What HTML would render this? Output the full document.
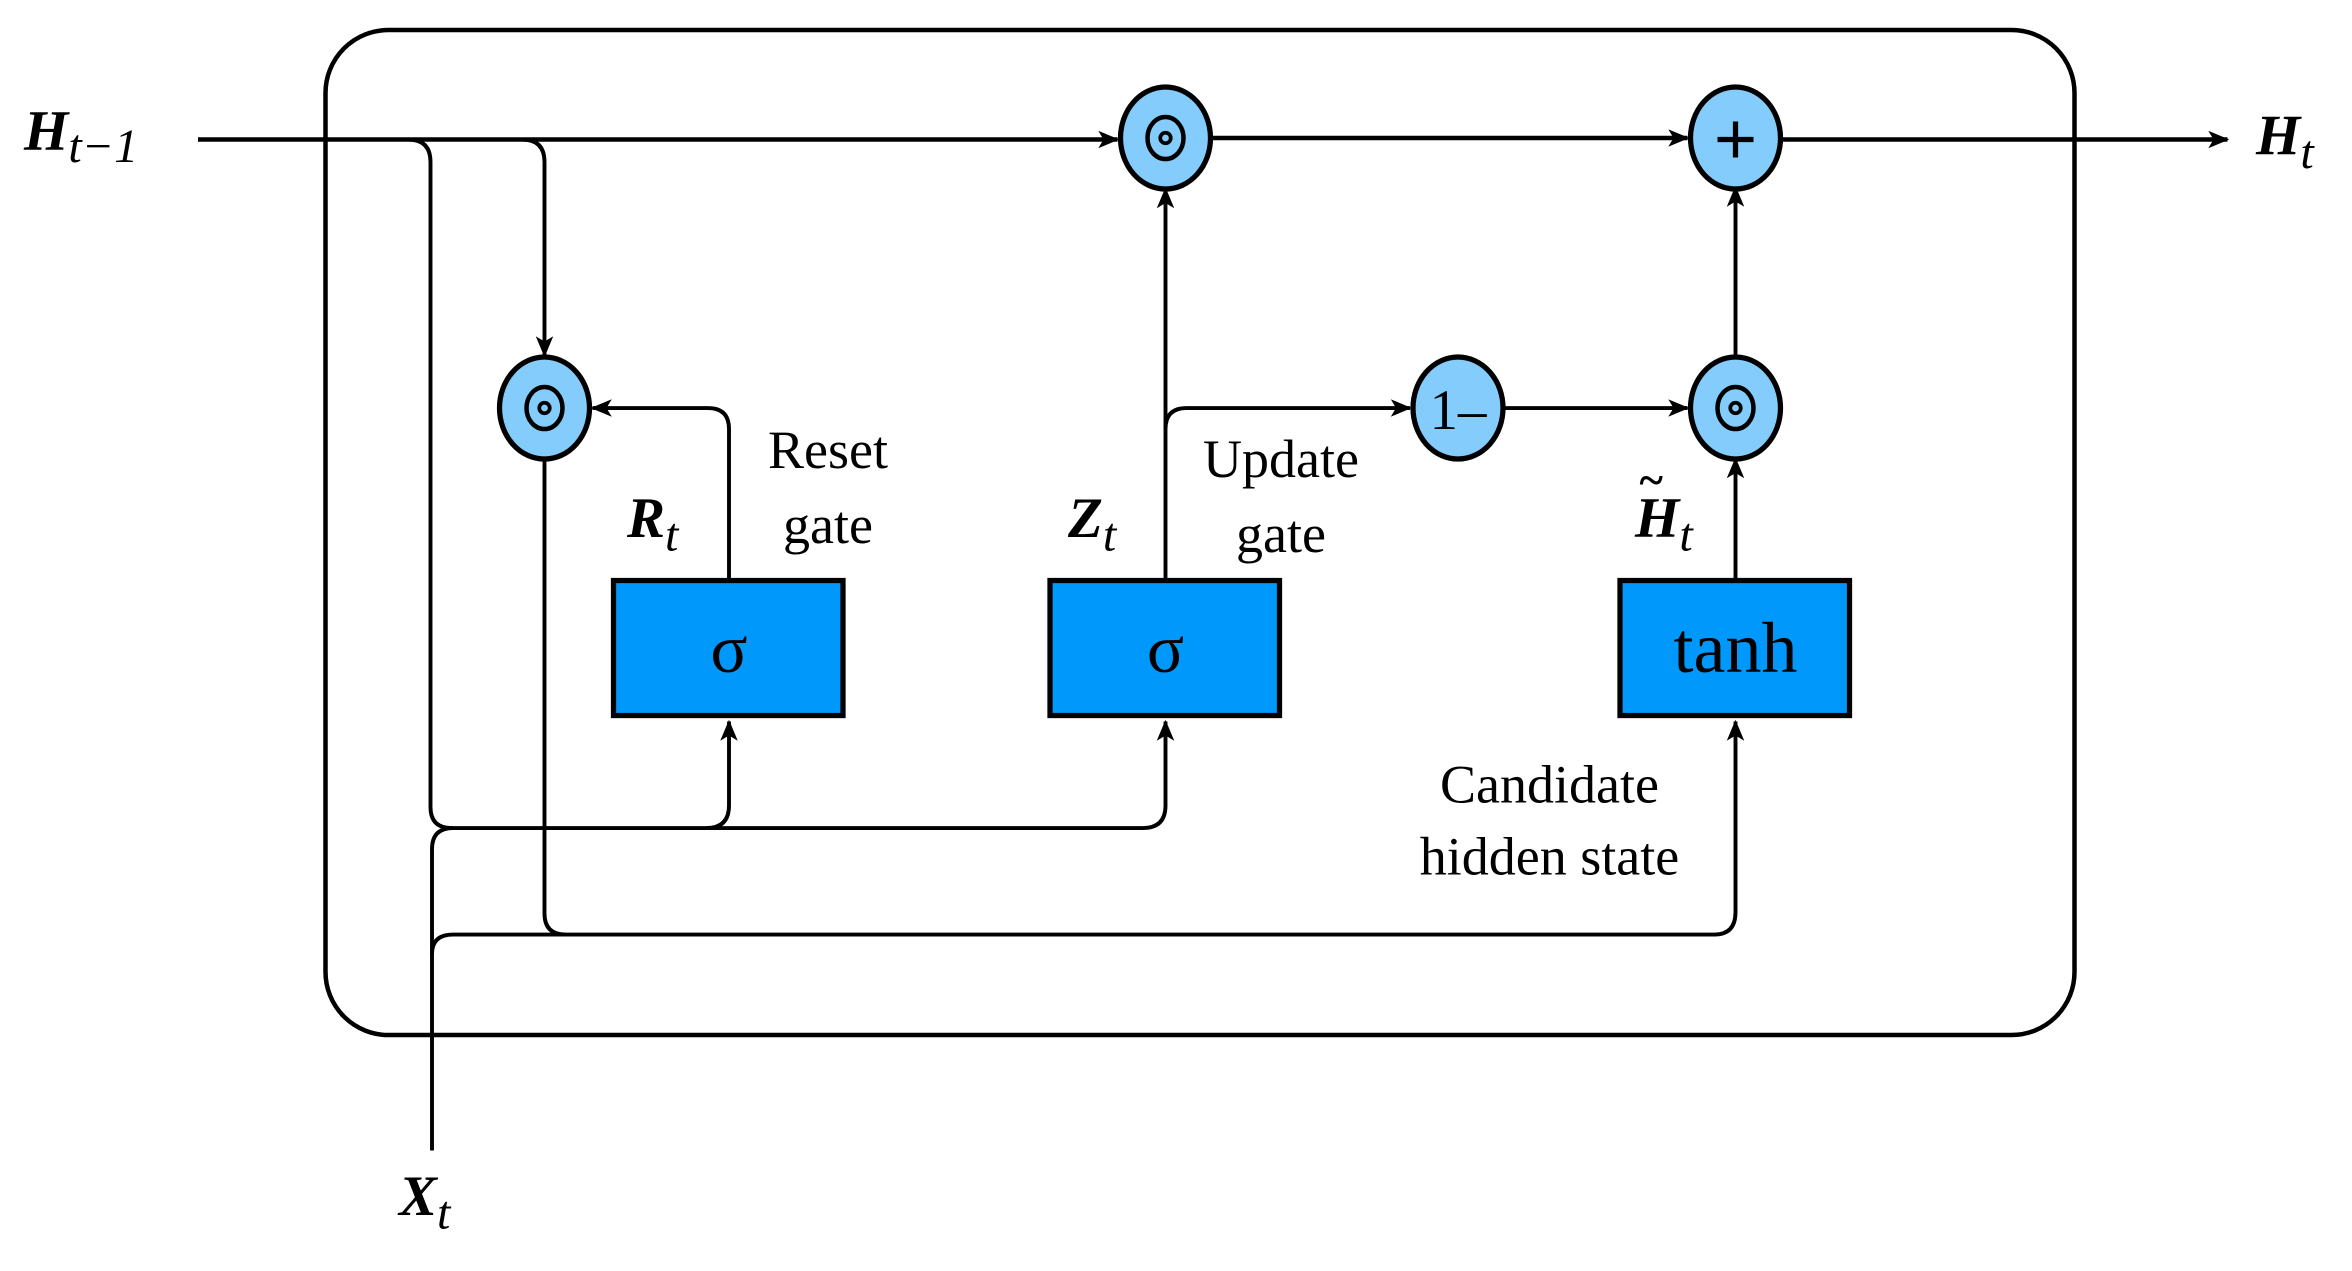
<!DOCTYPE html>
<html><head><meta charset="utf-8"><style>
html,body{margin:0;padding:0;background:#fff;}
svg{display:block;}
text{font-family:"Liberation Serif","DejaVu Serif",serif;fill:#000;}
</style></head><body>
<svg width="2352" height="1271" viewBox="0 0 1568 847.3" preserveAspectRatio="none" xmlns="http://www.w3.org/2000/svg">
<defs>
<marker id="b" viewBox="0 0 12 12" refX="11" refY="6" markerWidth="14" markerHeight="14" orient="auto" markerUnits="userSpaceOnUse">
<path d="M0,1 L12,6 L0,11 L3,6 Z" fill="#000"/>
</marker>
</defs>
<g fill="none" stroke="#000" stroke-width="2.6">
<rect x="217" y="20" width="1166" height="670" rx="42" ry="42" stroke-width="3"/>
<path d="M132,93 H745" stroke-width="3" marker-end="url(#b)"/>
<path d="M272,93 Q287,93 287,108 V538 Q287,552 301,552 H762 Q777,552 777,537 V481" marker-end="url(#b)"/>
<path d="M471,552 Q486,552 486,537 V481" marker-end="url(#b)"/>
<path d="M348,93 Q363,93 363,108 V237" marker-end="url(#b)"/>
<path d="M363,306 V609 Q363,623 377,623"/>
<path d="M288,767 V636 Q288,623 302,623 H1143 Q1157,623 1157,608 V481" marker-end="url(#b)"/>
<path d="M288,636 V566 Q288,552 302,552"/>
<path d="M486,386 V286 Q486,272 472,272 H395" marker-end="url(#b)"/>
<path d="M777,386 V126" marker-end="url(#b)"/>
<path d="M777,286 Q777,272 791,272 H940" marker-end="url(#b)"/>
<path d="M1003,272 H1125" marker-end="url(#b)"/>
<path d="M1157,386 V306" marker-end="url(#b)"/>
<path d="M1157,238 V125" marker-end="url(#b)"/>
<path d="M808,92 H1125" stroke-width="3" marker-end="url(#b)"/>
<path d="M1188,93 H1485" stroke-width="3" marker-end="url(#b)"/>
</g>
<g stroke="#000" stroke-width="3.5" fill="#84ccfb">
<ellipse cx="777" cy="92" rx="30" ry="34"/>
<ellipse cx="363" cy="272" rx="30" ry="34"/>
<ellipse cx="972" cy="272" rx="30" ry="34"/>
<ellipse cx="1157" cy="272" rx="30" ry="34"/>
<ellipse cx="1157" cy="92" rx="30" ry="34"/>
</g>
<g stroke="#000" fill="none">
<ellipse cx="777" cy="92" rx="12" ry="14" stroke-width="3"/><circle cx="777" cy="92" r="3.5" stroke-width="2.5"/>
<ellipse cx="363" cy="272" rx="12" ry="14" stroke-width="3"/><circle cx="363" cy="272" r="3.5" stroke-width="2.5"/>
<ellipse cx="1157" cy="272" rx="12" ry="14" stroke-width="3"/><circle cx="1157" cy="272" r="3.5" stroke-width="2.5"/>
<path d="M1145,93 H1169 M1157,81 V105" stroke-width="3.5"/>
</g>
<text x="972" y="286" font-size="38" text-anchor="middle">1–</text>
<g fill="#0099fb" stroke="#000" stroke-width="3.5">
<rect x="409" y="387" width="153" height="90"/>
<rect x="700" y="387" width="153" height="90"/>
<rect x="1080" y="387" width="153" height="90"/>
</g>
<text x="486" y="448" font-size="46" text-anchor="middle">σ</text>
<text x="777" y="448" font-size="46" text-anchor="middle">σ</text>
<text x="1157" y="448" font-size="48" text-anchor="middle">tanh</text>
<text x="16" y="100" font-size="38" font-weight="bold" font-style="italic">H<tspan font-weight="normal" dy="8" font-size="32">t−1</tspan></text>
<text x="1504" y="103" font-size="38" font-weight="bold" font-style="italic">H<tspan font-weight="normal" dy="9" font-size="32">t</tspan></text>
<text x="266" y="810" font-size="38" font-weight="bold" font-style="italic">X<tspan font-weight="normal" dy="9" font-size="32">t</tspan></text>
<text x="418" y="358" font-size="38" font-weight="bold" font-style="italic">R<tspan font-weight="normal" dy="9" font-size="32">t</tspan></text>
<text x="712" y="358" font-size="38" font-weight="bold" font-style="italic">Z<tspan font-weight="normal" dy="9" font-size="32">t</tspan></text>
<text x="1090" y="358" font-size="38" font-weight="bold" font-style="italic">H<tspan font-weight="normal" dy="9" font-size="32">t</tspan></text>
<text x="1093" y="330" font-size="30" font-weight="bold">~</text>
<text x="552" y="312" font-size="36" text-anchor="middle">Reset</text>
<text x="552" y="362" font-size="36" text-anchor="middle">gate</text>
<text x="854" y="318" font-size="36" text-anchor="middle">Update</text>
<text x="854" y="368" font-size="36" text-anchor="middle">gate</text>
<text x="1033" y="535" font-size="36" text-anchor="middle">Candidate</text>
<text x="1033" y="583" font-size="36" text-anchor="middle">hidden state</text>
</svg>
</body></html>
